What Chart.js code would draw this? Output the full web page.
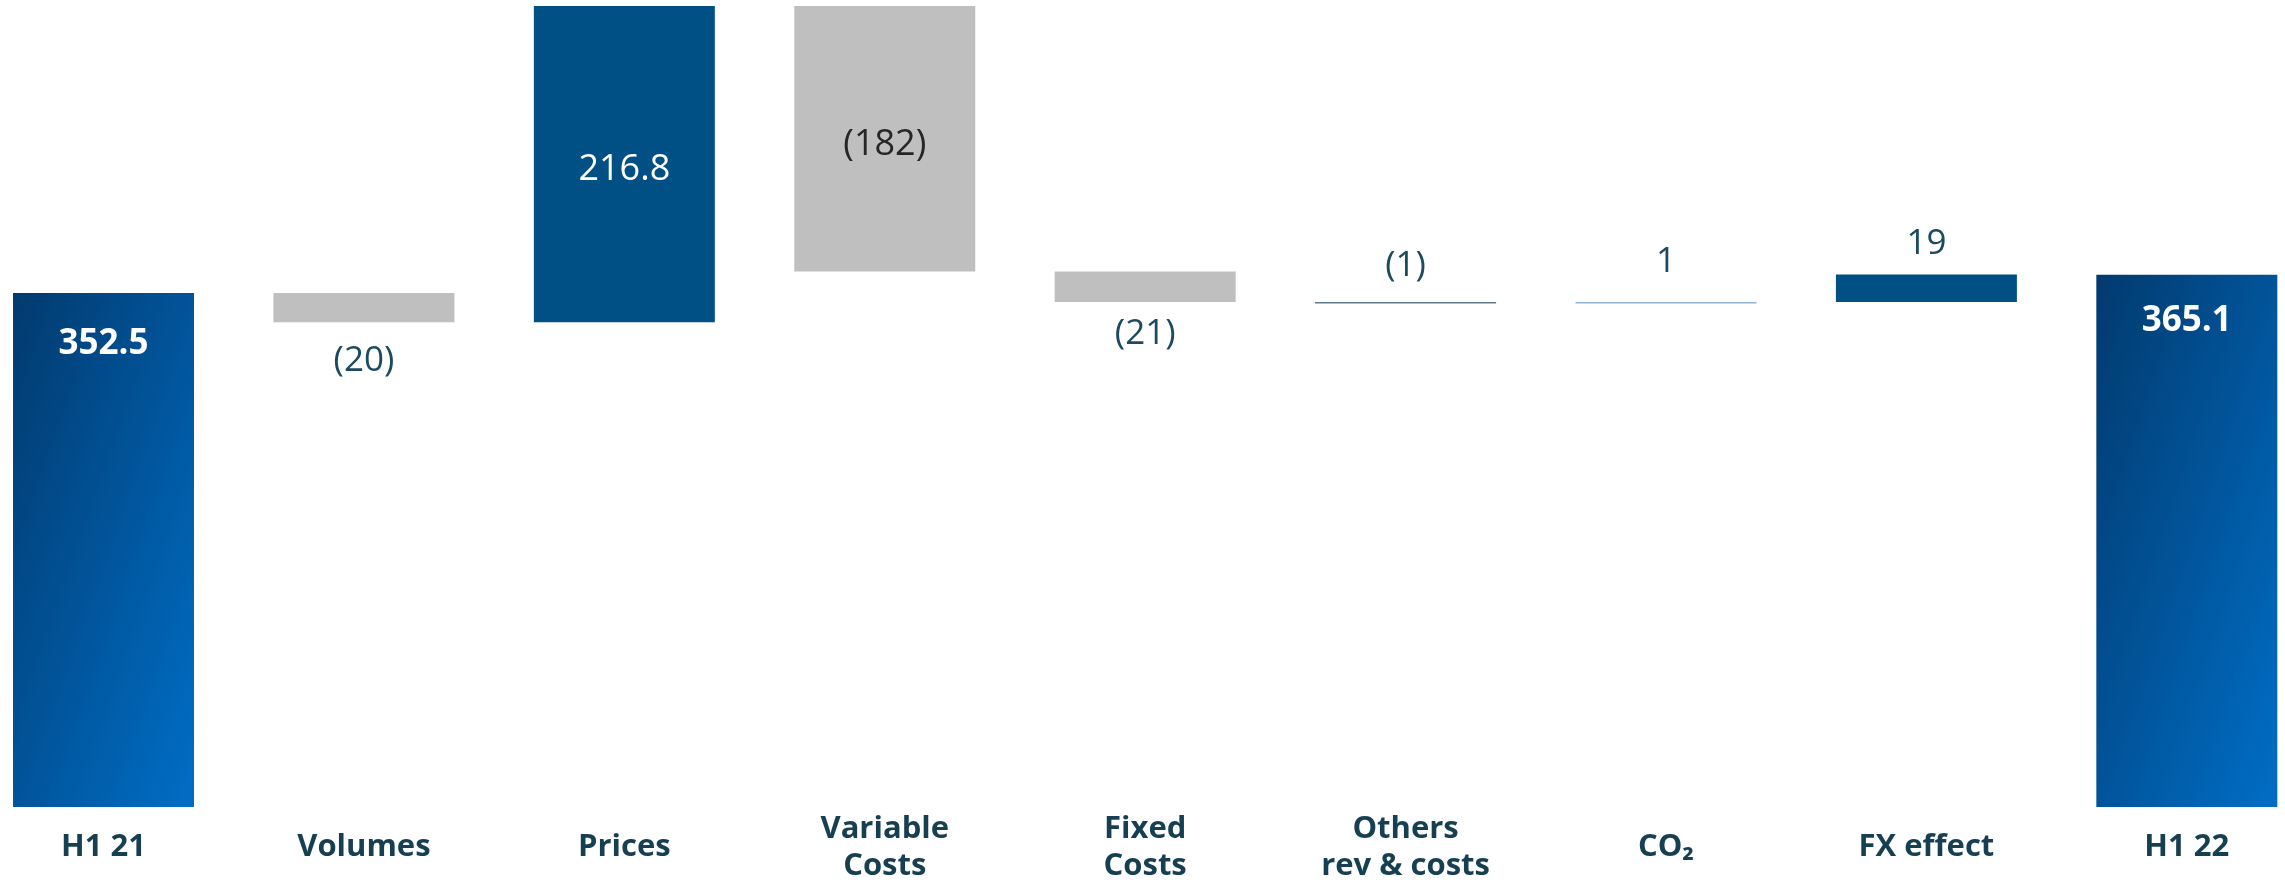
<!DOCTYPE html>
<html lang="en">
<head>
    <meta charset="UTF-8">
    <title>Bridge H1 21 - H1 22</title>
    <style>
        html, body {
            margin: 0;
            padding: 0;
            background: #fff;
        }
        #chart-container {
            width: 2285px;
            height: 891px;
        }
    </style>
    <script src="https://cdn.jsdelivr.net/npm/chart.js"></script>
</head>
<body>
    <div id="chart-container">
        <canvas id="bridgeChart" width="2285" height="891"></canvas>
    </div>

    <script>
        // data
        const categories = [['H1 21'], ['Volumes'], ['Prices'], ['Variable', 'Costs'], ['Fixed', 'Costs'],
                            ['Others', 'rev & costs'], ['CO₂'], ['FX effect'], ['H1 22']];
        const startTotal = 352.5;
        const deltas = [-20, 216.8, -182, -21, -1, 1, 19];
        const endTotal = 365.1;
        const valueLabels = ['352.5', '(20)', '216.8', '(182)', '(21)', '(1)', '1', '19', '365.1'];

        // floating bars: [from, to]
        const ranges = [[0, startTotal]];
        let running = startTotal;
        deltas.forEach(d => {
            ranges.push([running, running + d]);
            running += d;
        });
        ranges.push([0, endTotal]);

        const barData = ranges.map((r, i) => ({ x: i, y: r }));

        // colours per bar
        const solidColors = [null, '#bfbfbf', '#005086', '#bfbfbf', '#bfbfbf', '#5d7a8c', '#8db3d8', '#005086', null];
        // label placement: [mode, distance in px]
        const labelPlace = [['top', 51], ['below', 39], ['mid', 6], ['mid', 6], ['below', 32],
                            ['above', 36], ['above', 40], ['above', 30], ['top', 46]];

        function totalGradient(ctx) {
            const chart = ctx.chart;
            const sx = chart.scales.x, sy = chart.scales.y;
            if (!chart.chartArea || !sx || !sy) return '#00539a';
            const i = ctx.dataIndex;
            const w = 181;
            const left = sx.getPixelForValue(i) - w / 2;
            const top = sy.getPixelForValue(Math.max(...ranges[i]));
            const bottom = sy.getPixelForValue(Math.min(...ranges[i]));
            const h = bottom - top;
            // gradient that runs corner to corner, scaled with the shape
            const s = 2 / (1 / (w * w) + 1 / (h * h));
            const g = chart.ctx.createLinearGradient(left, top, left + s / w, top + s / h);
            g.addColorStop(0, '#023a6e');
            g.addColorStop(1, '#006ec6');
            return g;
        }

        const valueLabelPlugin = {
            id: 'valueLabels',
            afterDatasetsDraw(chart) {
                const ctx = chart.ctx;
                const meta = chart.getDatasetMeta(0);
                ctx.save();
                ctx.textAlign = 'center';
                ctx.textBaseline = 'middle';
                meta.data.forEach((bar, i) => {
                    const top = Math.min(bar.y, bar.base);
                    const bottom = Math.max(bar.y, bar.base);
                    const [mode, dist] = labelPlace[i];
                    let y;
                    if (mode === 'top') {
                        ctx.font = 'bold 35px "Open Sans"';
                        ctx.fillStyle = '#ffffff';
                        y = top + dist;
                    } else if (mode === 'mid') {
                        ctx.font = '36px "Open Sans"';
                        ctx.fillStyle = solidColors[i] === '#bfbfbf' ? '#262626' : '#ffffff';
                        y = (top + bottom) / 2 + dist;
                    } else if (mode === 'below') {
                        ctx.font = '35px "Open Sans"';
                        ctx.fillStyle = '#1c4a5e';
                        y = bottom + dist;
                    } else {
                        ctx.font = '35px "Open Sans"';
                        ctx.fillStyle = '#1c4a5e';
                        y = top - dist;
                    }
                    ctx.fillText(valueLabels[i], bar.x, y);
                });
                ctx.restore();
            }
        };

        const chart = new Chart(document.getElementById('bridgeChart').getContext('2d'), {
            type: 'bar',
            data: {
                datasets: [{
                    data: barData,
                    backgroundColor: (ctx) => solidColors[ctx.dataIndex] || totalGradient(ctx),
                    borderWidth: 0,
                    categoryPercentage: 1,
                    barPercentage: 0.695
                }]
            },
            options: {
                responsive: false,
                animation: false,
                devicePixelRatio: 1,
                layout: { padding: 0 },
                plugins: {
                    legend: { display: false },
                    tooltip: { enabled: false }
                },
                scales: {
                    x: {
                        type: 'linear',
                        offset: false,
                        min: -0.3975,
                        max: 8.377,
                        grid: { display: false },
                        border: { display: false },
                        afterBuildTicks: (scale) => {
                            scale.ticks = categories.map((_, i) => ({ value: i }));
                        },
                        afterFit: (scale) => {
                            scale.height = 84;
                        },
                        ticks: {
                            autoSkip: false,
                            maxRotation: 0,
                            padding: 14,
                            crossAlign: 'center',
                            color: '#173f52',
                            font: { family: '"Open Sans"', size: 31, weight: 'bold', lineHeight: 1.2 },
                            callback: (v) => categories[v]
                        }
                    },
                    y: {
                        display: false,
                        min: 0,
                        max: 553.5
                    }
                }
            },
            plugins: [valueLabelPlugin]
        });
    </script>
</body>
</html>
